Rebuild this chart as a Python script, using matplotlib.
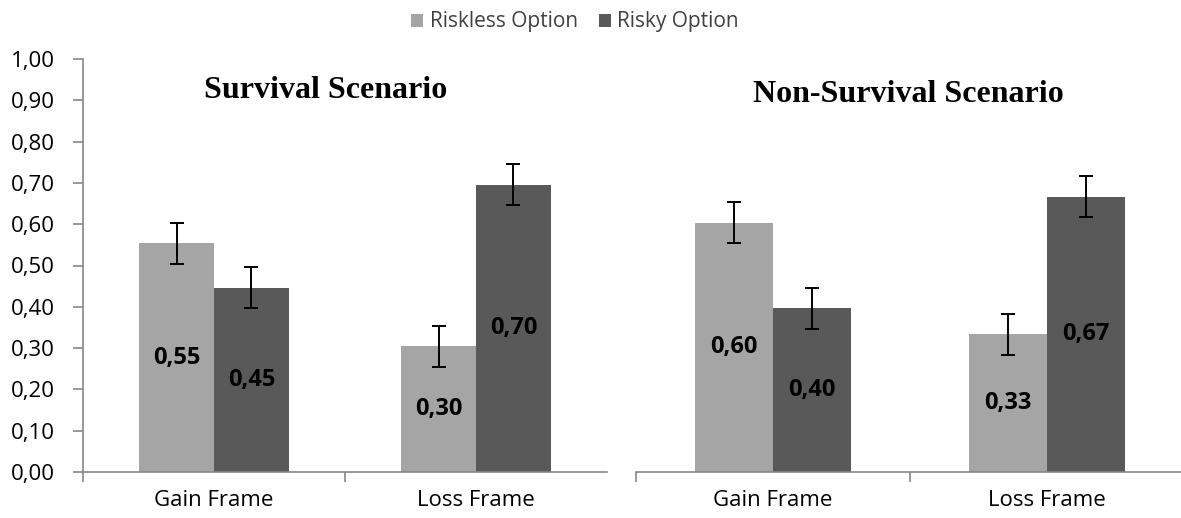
import matplotlib
matplotlib.use("Agg")
import matplotlib.pyplot as plt
import numpy as np

# ---- data ----
frames = ["Gain Frame", "Loss Frame"]
series = ["Riskless Option", "Risky Option"]
survival_riskless = [0.554, 0.304]
survival_risky = [0.446, 0.696]
nonsurvival_riskless = [0.604, 0.333]
nonsurvival_risky = [0.396, 0.667]
survival_err = [0.05, 0.05]
nonsurvival_err = [0.05, 0.05]
panel_titles = ["Survival Scenario", "Non-Survival Scenario"]
yticks = [0.0, 0.1, 0.2, 0.3, 0.4, 0.5, 0.6, 0.7, 0.8, 0.9, 1.0]

# ---- style ----
C_RISKLESS = "#A5A5A5"
C_RISKY = "#595959"
C_AXIS = "#868686"
SANS = ["Open Sans", "DejaVu Sans"]
SERIF = ["Liberation Serif", "DejaVu Serif"]

W, H = 1181, 518
fig = plt.figure(figsize=(W / 100, H / 100), dpi=100)


def rect(x0, x1, ybot, ytop):
    return [x0 / W, 1 - ybot / H, (x1 - x0) / W, (ybot - ytop) / H]


axL = fig.add_axes(rect(83, 607, 472, 59))
axR = fig.add_axes(rect(636, 1184, 472, 59))

bw = 0.286
x = np.arange(len(frames))
fmt = lambda v: f"{v:.2f}".replace(".", ",")

handles = None
for ax, rl, rk, err, show_y in [
    (axL, survival_riskless, survival_risky, survival_err, True),
    (axR, nonsurvival_riskless, nonsurvival_risky, nonsurvival_err, False),
]:
    b1 = ax.bar(x - bw / 2, rl, bw, color=C_RISKLESS, label=series[0], zorder=2)
    b2 = ax.bar(x + bw / 2, rk, bw, color=C_RISKY, label=series[1], zorder=2)
    ax.errorbar(x - bw / 2, rl, yerr=err, fmt="none", ecolor="black",
                elinewidth=1.4, capsize=4.8, capthick=1.4, zorder=3)
    ax.errorbar(x + bw / 2, rk, yerr=err, fmt="none", ecolor="black",
                elinewidth=1.4, capsize=4.8, capthick=1.4, zorder=3)
    for bars in (b1, b2):
        ax.bar_label(bars, labels=[fmt(v) for v in bars.datavalues],
                     label_type="center", fontsize=17, fontweight="bold",
                     family=SANS, color="black")
    handles = (b1, b2)

    ax.set_xlim(-0.5, 1.5)
    ax.set_ylim(0, 1.0)
    for s in ("top", "right"):
        ax.spines[s].set_visible(False)
    ax.spines["bottom"].set_color(C_AXIS)
    ax.spines["bottom"].set_linewidth(1.2)
    ax.spines["left"].set_color(C_AXIS)
    ax.spines["left"].set_linewidth(1.2)

    ax.set_xticks([-0.5, 0.5])
    ax.set_xticklabels([])
    ax.set_xticks(x, minor=True)
    ax.set_xticklabels(frames, minor=True, fontsize=16, family=SANS)
    ax.tick_params(axis="x", which="major", length=7, width=1.2, color=C_AXIS)
    ax.tick_params(axis="x", which="minor", length=0, pad=13)

    if show_y:
        ax.set_yticks(yticks)
        ax.set_yticklabels([fmt(v) for v in yticks], fontsize=16, family=SANS)
        ax.tick_params(axis="y", length=7, width=1.2, color=C_AXIS, pad=13)
    else:
        ax.spines["left"].set_visible(False)
        ax.set_yticks([])

fig.text(326 / W, 1 - 98 / H, panel_titles[0], ha="center", va="baseline",
         fontsize=23, fontweight="bold", family=SERIF)
fig.text(908 / W, 1 - 102 / H, panel_titles[1], ha="center", va="baseline",
         fontsize=23, fontweight="bold", family=SERIF)

leg = fig.legend(handles, series, loc="center", bbox_to_anchor=(575 / W, 1 - 22 / H),
                 ncol=2, frameon=False, handlelength=0.6, handleheight=0.6,
                 handletextpad=0.3, columnspacing=1.0,
                 prop={"family": SANS, "size": 15})
for t in leg.get_texts():
    t.set_color("#404040")

fig.savefig("out.png", dpi=100)
